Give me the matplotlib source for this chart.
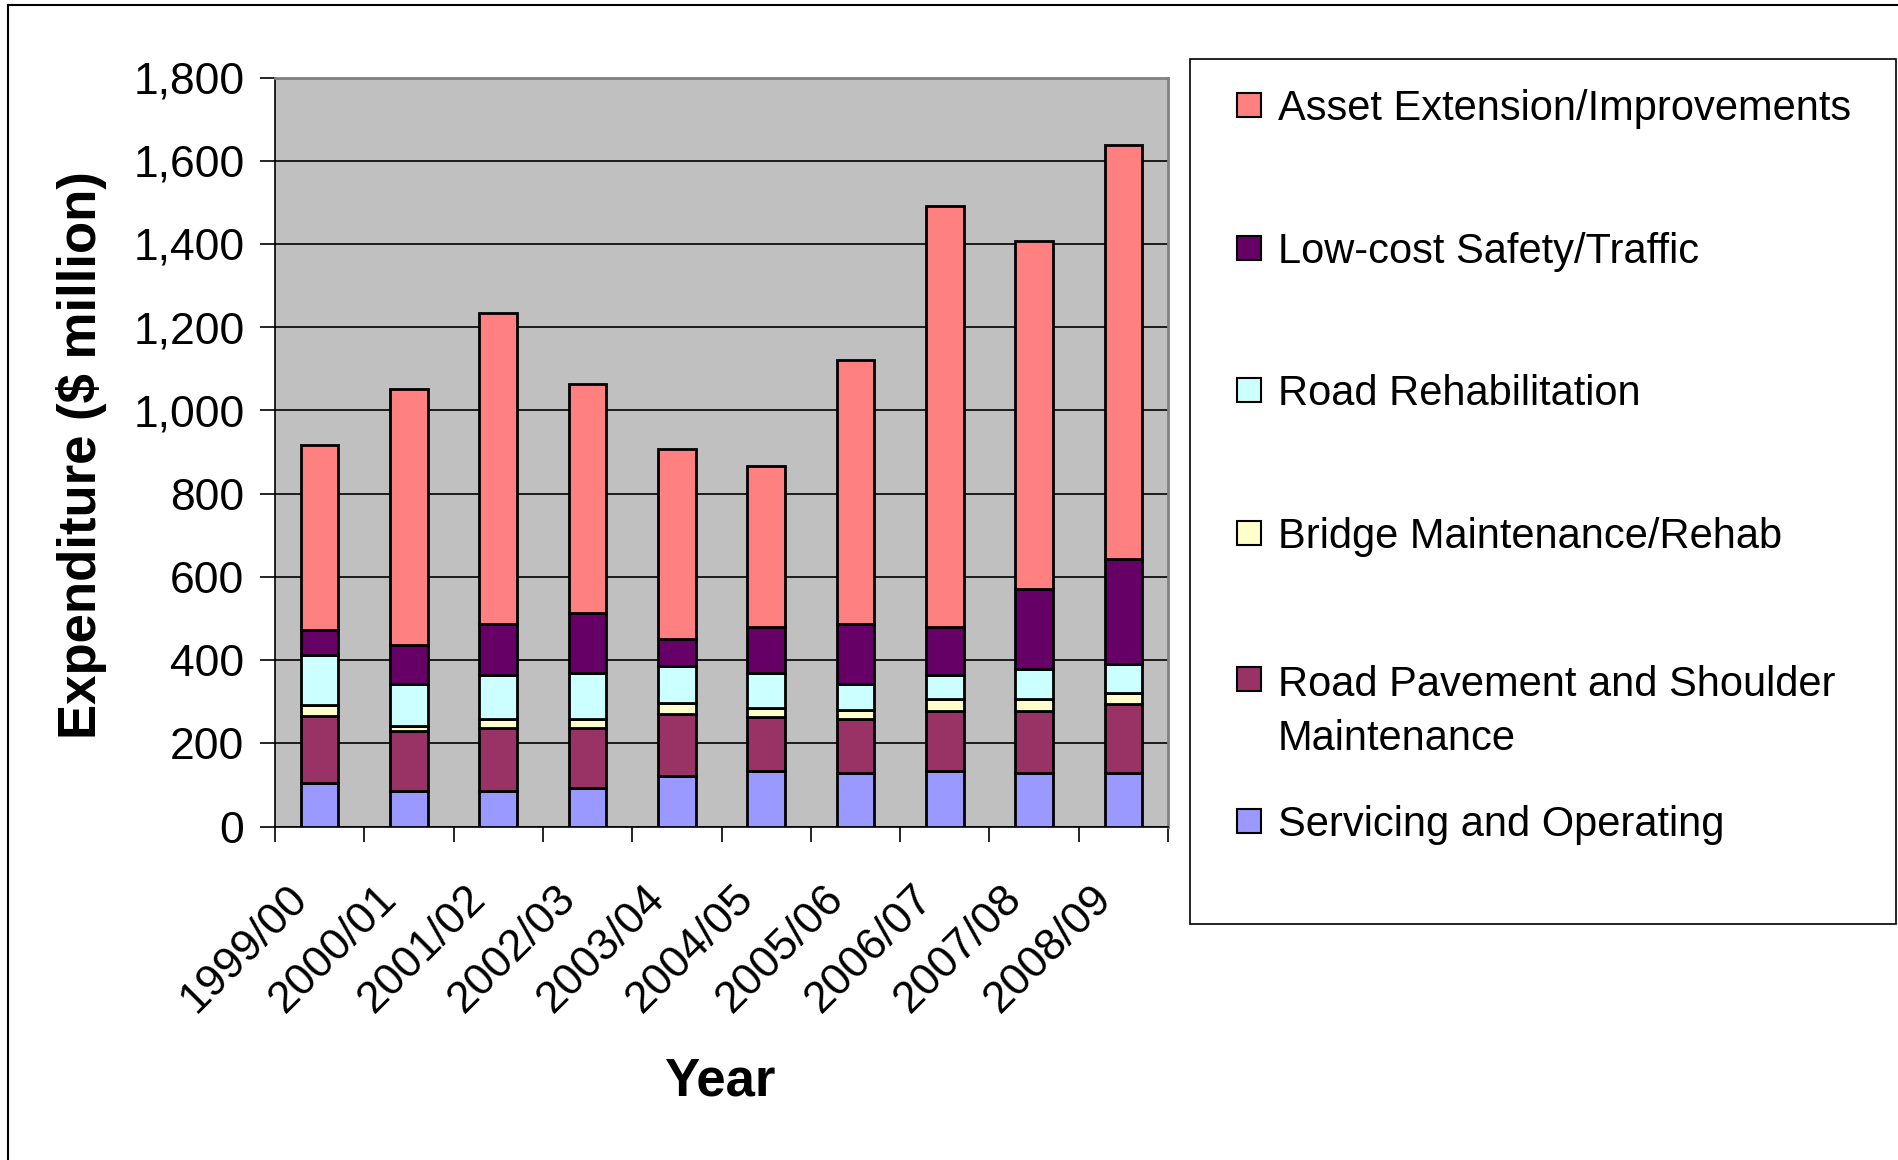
import numpy as np
import matplotlib
matplotlib.use("Agg")
from matplotlib import pyplot as plt
from matplotlib.patches import Rectangle
from matplotlib.lines import Line2D
from matplotlib.transforms import ScaledTranslation

plt.rcParams['font.family'] = ['Liberation Sans', 'DejaVu Sans']

# data ($ million)
years = ["1999/00", "2000/01", "2001/02", "2002/03", "2003/04",
         "2004/05", "2005/06", "2006/07", "2007/08", "2008/09"]
servicing = [106, 85, 85, 93, 121, 134, 128, 134, 128, 128]
pavement = [160, 144, 151, 143, 149, 130, 130, 145, 151, 166]
bridge = [27, 13, 22, 22, 28, 22, 23, 28, 28, 28]
rehab = [120, 100, 106, 112, 88, 84, 61, 57, 71, 70]
safety = [59, 94, 122, 144, 64, 110, 144, 116, 193, 250]
asset = [444, 616, 749, 550, 457, 386, 636, 1011, 836, 995]

series_names = ["Servicing and Operating",
                "Road Pavement and Shoulder\nMaintenance",
                "Bridge Maintenance/Rehab",
                "Road Rehabilitation",
                "Low-cost Safety/Traffic",
                "Asset Extension/Improvements"]
series_vals = [servicing, pavement, bridge, rehab, safety, asset]
colors = ["#9999FF", "#993366", "#FFFFCC", "#CCFFFF", "#660066", "#FF8080"]

W, H = 1898, 1160
fig = plt.figure(figsize=(W / 100, H / 100), dpi=100)
ax = fig.add_axes([275 / W, 1 - 826.7 / H, (1168 - 275) / W, (826.7 - 77.5) / H])
ax.set_facecolor("#C0C0C0")

x = np.arange(len(years))
bottom = np.zeros(len(years))
for vals, col, name in zip(series_vals, colors, series_names):
    ax.bar(x, vals, width=0.42, bottom=bottom, color=col,
           edgecolor="black", linewidth=2, label=name, zorder=3)
    bottom += np.array(vals)

ax.set_xlim(-0.5, len(years) - 0.5)
ax.set_ylim(0, 1800)
ax.set_yticks(np.arange(0, 1801, 200))
ax.set_yticklabels(["{:,}".format(v) for v in range(0, 1801, 200)])
ax.yaxis.grid(True, color="black", linewidth=1.2, zorder=0)
ax.set_axisbelow(True)

ax.set_xticks(x)
ax.set_xticklabels(years, rotation=45, ha="right", rotation_mode="anchor")
ax.set_xticks(np.arange(-0.5, len(years)), minor=True)
ax.tick_params(axis="x", which="major", length=0, pad=37, labelsize=32)
ax.tick_params(axis="x", which="minor", length=11, width=1.2, color="black")
ax.tick_params(axis="y", length=11, width=1.2, pad=11, labelsize=32)

# shift the slanted year labels left like Excel does
shift = ScaledTranslation(-0.33, 0, fig.dpi_scale_trans)
for lab in ax.get_xticklabels():
    lab.set_transform(lab.get_transform() + shift)

for s in ["top", "right"]:
    ax.spines[s].set_color("#808080")
    ax.spines[s].set_linewidth(2)
for s in ["left", "bottom"]:
    ax.spines[s].set_color("black")
    ax.spines[s].set_linewidth(1.2)

fig.text(82 / W, 1 - 455 / H, "Expenditure ($ million)", rotation=90,
         fontsize=38, fontweight="bold", ha="center", va="center")
fig.text(720 / W, 1 - 1081 / H, "Year", fontsize=38, fontweight="bold",
         ha="center", va="center")

# legend box drawn like the Excel one
fig.patches.append(Rectangle((1190 / W, 1 - 924 / H), (1896 - 1190) / W, (924 - 59) / H,
                             transform=fig.transFigure, facecolor="white",
                             edgecolor="black", linewidth=1.2))
leg_y = [821, 708, 533, 390, 248, 105]
for name, col, yc in zip(series_names, colors, leg_y):
    y_box = yc - 29 if "\n" in name else yc
    fig.patches.append(Rectangle((1237 / W, 1 - (y_box + 12) / H), 24 / W, 24 / H,
                                 transform=fig.transFigure, facecolor=col,
                                 edgecolor="black", linewidth=1.5))
    fig.text(1278 / W, 1 - (yc + 4) / H, name, fontsize=30, ha="left", va="center",
             linespacing=1.48)

# outer chart border
fig.lines.append(Line2D([8 / W, 8 / W], [0, 1 - 5 / H], transform=fig.transFigure,
                        color="black", linewidth=1.5))
fig.lines.append(Line2D([8 / W, 1], [1 - 5 / H, 1 - 5 / H], transform=fig.transFigure,
                        color="black", linewidth=1.5))

fig.savefig("out.png", dpi=100, facecolor="white")
